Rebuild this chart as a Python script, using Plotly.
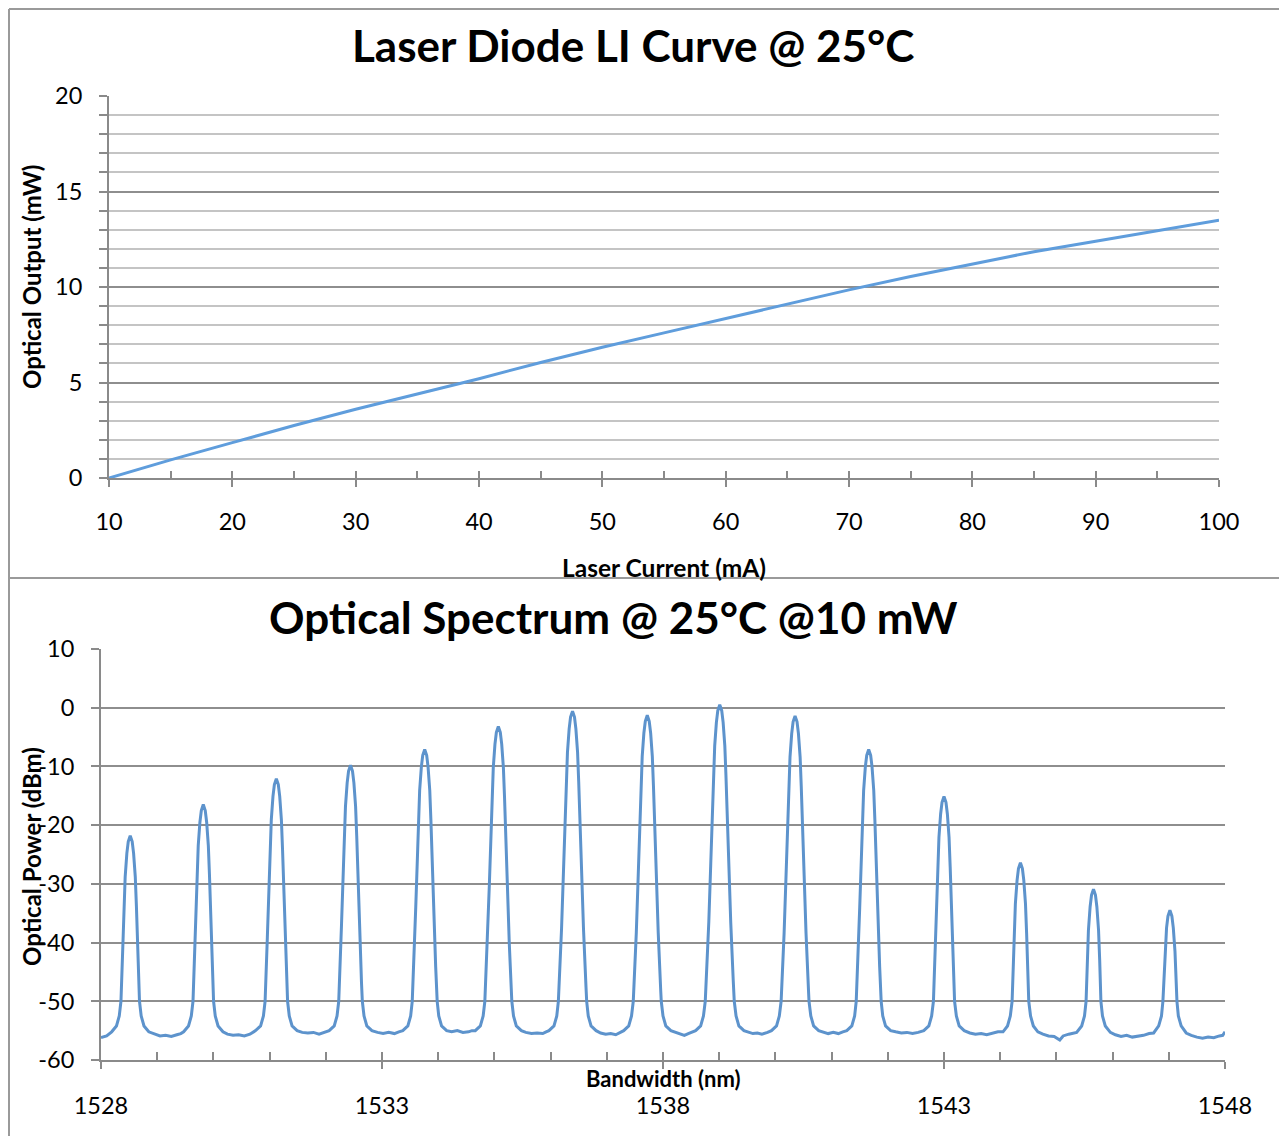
import plotly.graph_objects as go

# ---------------- data: LI curve ----------------
current_ma = [10, 15, 20, 25, 30, 35, 40, 45, 50, 55, 60, 65, 70, 75, 80, 85, 90, 95, 100]
optical_mw = [0, 0.95, 1.85, 2.75, 3.6, 4.4, 5.2, 6.05, 6.85, 7.6, 8.35, 9.1, 9.85, 10.55,
              11.2, 11.85, 12.4, 12.95, 13.5]
li_xticks = [10, 20, 30, 40, 50, 60, 70, 80, 90, 100]
li_yticks = [0, 5, 10, 15, 20]

# ---------------- data: optical spectrum ----------------
wavelength_nm = [
    1528.00, 1528.10, 1528.19,
    1528.275, 1528.325, 1528.355, 1528.395, 1528.41, 1528.43, 1528.46, 1528.485, 1528.52,
    1528.555, 1528.58, 1528.61, 1528.63, 1528.645, 1528.685, 1528.715, 1528.765, 1528.85,
    1528.95, 1529.05, 1529.15, 1529.25, 1529.35, 1529.42,
    1529.47, 1529.557, 1529.607, 1529.637, 1529.66, 1529.695, 1529.71, 1529.73, 1529.76, 1529.785, 1529.82,
    1529.855, 1529.88, 1529.91, 1529.93, 1529.945, 1529.98, 1530.003, 1530.033, 1530.083, 1530.17,
    1530.25, 1530.35, 1530.45, 1530.55, 1530.65,
    1530.75, 1530.84, 1530.89, 1530.92, 1530.96, 1530.995, 1531.01, 1531.03, 1531.06, 1531.085, 1531.12,
    1531.155, 1531.18, 1531.21, 1531.23, 1531.245, 1531.28, 1531.32, 1531.35, 1531.40, 1531.49,
    1531.58, 1531.68, 1531.78, 1531.88, 1531.96,
    1532.06, 1532.15, 1532.20, 1532.23, 1532.245, 1532.28, 1532.315, 1532.33, 1532.35, 1532.38, 1532.405, 1532.44,
    1532.475, 1532.50, 1532.53, 1532.55, 1532.565, 1532.60, 1532.635, 1532.65, 1532.68, 1532.73, 1532.82,
    1532.92, 1533.02, 1533.12, 1533.22, 1533.30,
    1533.37, 1533.46, 1533.51, 1533.538, 1533.565, 1533.60, 1533.635, 1533.65, 1533.67, 1533.70, 1533.725, 1533.76,
    1533.795, 1533.82, 1533.85, 1533.87, 1533.885, 1533.92, 1533.955, 1533.982, 1534.01, 1534.06, 1534.15,
    1534.24, 1534.34, 1534.44, 1534.54, 1534.60,
    1534.66, 1534.75, 1534.80, 1534.83, 1534.875, 1534.91, 1534.945, 1534.96, 1534.98, 1535.01, 1535.035, 1535.07,
    1535.105, 1535.13, 1535.16, 1535.18, 1535.195, 1535.23, 1535.265, 1535.31, 1535.34, 1535.39, 1535.48,
    1535.56, 1535.66, 1535.76, 1535.86, 1535.92,
    1535.97, 1536.06, 1536.11, 1536.138, 1536.15, 1536.195, 1536.23, 1536.265, 1536.28, 1536.30, 1536.33, 1536.355, 1536.39,
    1536.425, 1536.45, 1536.48, 1536.50, 1536.515, 1536.55, 1536.585, 1536.63, 1536.642, 1536.67, 1536.72, 1536.81,
    1536.89, 1536.98, 1537.07, 1537.16, 1537.24,
    1537.30, 1537.39, 1537.44, 1537.471, 1537.48, 1537.525, 1537.56, 1537.595, 1537.61, 1537.63, 1537.66, 1537.685, 1537.72,
    1537.755, 1537.78, 1537.81, 1537.83, 1537.845, 1537.88, 1537.915, 1537.96, 1537.969, 1538.00, 1538.05, 1538.14,
    1538.22, 1538.30, 1538.38, 1538.45, 1538.52,
    1538.58, 1538.67, 1538.72, 1538.752, 1538.77, 1538.815, 1538.85, 1538.885, 1538.90, 1538.92, 1538.95, 1538.975, 1539.01,
    1539.045, 1539.07, 1539.10, 1539.12, 1539.135, 1539.17, 1539.205, 1539.25, 1539.268, 1539.30, 1539.35, 1539.44,
    1539.52, 1539.60, 1539.68, 1539.76, 1539.86,
    1539.93, 1540.02, 1540.07, 1540.102, 1540.11, 1540.155, 1540.19, 1540.225, 1540.24, 1540.26, 1540.29, 1540.315, 1540.35,
    1540.385, 1540.41, 1540.44, 1540.46, 1540.475, 1540.51, 1540.545, 1540.59, 1540.598, 1540.63, 1540.68, 1540.77,
    1540.85, 1540.94, 1541.03, 1541.12, 1541.20,
    1541.27, 1541.36, 1541.41, 1541.438, 1541.465, 1541.50, 1541.535, 1541.55, 1541.57, 1541.60, 1541.625, 1541.66,
    1541.695, 1541.72, 1541.75, 1541.77, 1541.785, 1541.82, 1541.855, 1541.882, 1541.91, 1541.96, 1542.05,
    1542.14, 1542.24, 1542.34, 1542.44, 1542.54,
    1542.64, 1542.73, 1542.78, 1542.812, 1542.84, 1542.875, 1542.89, 1542.91, 1542.94, 1542.965, 1543.00,
    1543.035, 1543.06, 1543.09, 1543.11, 1543.125, 1543.16, 1543.188, 1543.22, 1543.27, 1543.36,
    1543.46, 1543.56, 1543.66, 1543.76, 1543.86, 1543.96,
    1544.05, 1544.13, 1544.18, 1544.212, 1544.235, 1544.25, 1544.27, 1544.30, 1544.325, 1544.36,
    1544.395, 1544.42, 1544.45, 1544.47, 1544.485, 1544.508, 1544.54, 1544.59, 1544.67,
    1544.76, 1544.86, 1544.96, 1545.06, 1545.12, 1545.22, 1545.30,
    1545.36, 1545.45, 1545.50, 1545.528, 1545.535, 1545.55, 1545.57, 1545.60, 1545.625, 1545.66,
    1545.695, 1545.72, 1545.75, 1545.77, 1545.785, 1545.792, 1545.82, 1545.87, 1545.96,
    1546.05, 1546.15, 1546.25, 1546.35, 1546.45, 1546.55, 1546.65,
    1546.73, 1546.82, 1546.87, 1546.895, 1546.91, 1546.93, 1546.96, 1546.985, 1547.02,
    1547.055, 1547.08, 1547.11, 1547.13, 1547.145, 1547.17, 1547.22, 1547.31,
    1547.40, 1547.50, 1547.60, 1547.70, 1547.80, 1547.90, 1547.96, 1548.00,
]
power_dbm = [
    -56.2, -55.9, -55.2,
    -54.2, -52.5, -50.0, -38.8, -33.8, -28.8, -24.8, -22.8, -21.8,
    -22.8, -24.8, -28.8, -33.8, -38.8, -50.0, -52.5, -54.2, -55.2,
    -55.6, -55.9, -55.8, -56.0, -55.7, -55.5,
    -55.2, -54.2, -52.5, -50.0, -43.5, -33.5, -28.5, -23.5, -19.5, -17.5, -16.5,
    -17.5, -19.5, -23.5, -28.5, -33.5, -43.5, -50.0, -52.5, -54.2, -55.2,
    -55.6, -55.8, -55.7, -55.9, -55.6,
    -55.0, -54.2, -52.5, -50.0, -39.1, -29.1, -24.1, -19.1, -15.1, -13.1, -12.1,
    -13.1, -15.1, -19.1, -24.1, -29.1, -39.1, -50.0, -52.5, -54.2, -55.0,
    -55.3, -55.4, -55.3, -55.6, -55.3,
    -55.0, -54.2, -52.5, -50.0, -46.8, -36.8, -26.8, -21.8, -16.8, -12.8, -10.8, -9.8,
    -10.8, -12.8, -16.8, -21.8, -26.8, -36.8, -46.8, -50.0, -52.5, -54.2, -55.0,
    -55.3, -55.5, -55.3, -55.5, -55.2,
    -55.0, -54.2, -52.5, -50.0, -44.1, -34.1, -24.1, -19.1, -14.1, -10.1, -8.1, -7.1,
    -8.1, -10.1, -14.1, -19.1, -24.1, -34.1, -44.1, -50.0, -52.5, -54.2, -55.0,
    -55.2, -55.0, -55.3, -55.2, -55.0,
    -55.0, -54.2, -52.5, -50.0, -40.2, -30.2, -20.2, -15.2, -10.2, -6.2, -4.2, -3.2,
    -4.2, -6.2, -10.2, -15.2, -20.2, -30.2, -40.2, -50.0, -52.5, -54.2, -55.0,
    -55.3, -55.5, -55.4, -55.5, -55.2,
    -55.0, -54.2, -52.5, -50.0, -47.6, -37.6, -27.6, -17.6, -12.6, -7.6, -3.6, -1.6, -0.6,
    -1.6, -3.6, -7.6, -12.6, -17.6, -27.6, -37.6, -47.6, -50.0, -52.5, -54.2, -55.0,
    -55.4, -55.6, -55.5, -55.7, -55.3,
    -55.0, -54.2, -52.5, -50.0, -48.3, -38.3, -28.3, -18.3, -13.3, -8.3, -4.3, -2.3, -1.3,
    -2.3, -4.3, -8.3, -13.3, -18.3, -28.3, -38.3, -48.3, -50.0, -52.5, -54.2, -55.0,
    -55.3, -55.6, -55.8, -55.5, -55.2,
    -55.0, -54.2, -52.5, -50.0, -46.5, -36.5, -26.5, -16.5, -11.5, -6.5, -2.5, -0.5, 0.5,
    -0.5, -2.5, -6.5, -11.5, -16.5, -26.5, -36.5, -46.5, -50.0, -52.5, -54.2, -55.0,
    -55.3, -55.5, -55.4, -55.6, -55.3,
    -55.0, -54.2, -52.5, -50.0, -48.4, -38.4, -28.4, -18.4, -13.4, -8.4, -4.4, -2.4, -1.4,
    -2.4, -4.4, -8.4, -13.4, -18.4, -28.4, -38.4, -48.4, -50.0, -52.5, -54.2, -55.0,
    -55.3, -55.5, -55.3, -55.5, -55.2,
    -55.0, -54.2, -52.5, -50.0, -44.1, -34.1, -24.1, -19.1, -14.1, -10.1, -8.1, -7.1,
    -8.1, -10.1, -14.1, -19.1, -24.1, -34.1, -44.1, -50.0, -52.5, -54.2, -55.0,
    -55.2, -55.4, -55.3, -55.5, -55.3,
    -55.0, -54.2, -52.5, -50.0, -42.1, -32.1, -27.1, -22.1, -18.1, -16.1, -15.1,
    -16.1, -18.1, -22.1, -27.1, -32.1, -42.1, -50.0, -52.5, -54.2, -55.0,
    -55.4, -55.6, -55.5, -55.7, -55.4, -55.2,
    -55.2, -54.2, -52.5, -50.0, -43.4, -38.4, -33.4, -29.4, -27.4, -26.4,
    -27.4, -29.4, -33.4, -38.4, -43.4, -50.0, -52.5, -54.2, -55.2,
    -55.6, -55.9, -56.0, -56.6, -55.9, -55.6, -55.4,
    -55.3, -54.2, -52.5, -50.0, -47.9, -42.9, -37.9, -33.9, -31.9, -30.9,
    -31.9, -33.9, -37.9, -42.9, -47.9, -50.0, -52.5, -54.2, -55.3,
    -55.7, -56.0, -55.8, -56.1, -56.0, -55.8, -55.5,
    -55.4, -54.2, -52.5, -50.0, -46.5, -41.5, -37.5, -35.5, -34.5,
    -35.5, -37.5, -41.5, -46.5, -50.0, -52.5, -54.2, -55.4,
    -55.8, -56.1, -56.3, -56.1, -56.2, -55.9, -55.8, -55.2,
]
spec_xticks = [1528, 1533, 1538, 1543, 1548]
spec_yticks = [10, 0, -10, -20, -30, -40, -50, -60]
spec_yticktext = ["10", "0", "-10", "-20", "-30", "-40", "-50", "-60"]

# ---------------- layout helpers (page pixel -> paper) ----------------
# the page body has an 8 px margin, so the figure is drawn 8 px in from the window edge
OFF = 8
W, H = 1287 - OFF, 1136 - OFF
def px(x):
    return (x - OFF) / W
def py(y):
    return 1 - (y - OFF) / H

FONT = "Lato, Carlito, Calibri, sans-serif"
AXIS_GREY = "#8a8a8a"
MAJOR_GRID = "#8e8e8e"
MINOR_GRID = "#c4c4c4"

fig = go.Figure()
fig.add_trace(go.Scatter(x=current_ma, y=optical_mw, mode="lines",
                         line=dict(color="#5F9DDC", width=3), xaxis="x", yaxis="y",
                         showlegend=False, hoverinfo="skip"))
fig.add_trace(go.Scatter(x=wavelength_nm, y=power_dbm, mode="lines",
                         line=dict(color="#5D93CC", width=3), xaxis="x2", yaxis="y2",
                         showlegend=False, hoverinfo="skip"))
# invisible anchors so the overlay tick axes render
fig.add_trace(go.Scatter(x=[None], y=[None], xaxis="x3", yaxis="y", showlegend=False))
fig.add_trace(go.Scatter(x=[None], y=[None], xaxis="x4", yaxis="y2", showlegend=False))

tickfont = dict(family=FONT, size=23.5, color="black")

fig.update_layout(
    width=W, height=H, margin=dict(l=0, r=0, t=0, b=0, pad=0, autoexpand=False),
    paper_bgcolor="white", plot_bgcolor="white", showlegend=False,
    xaxis=dict(domain=[px(109), px(1219)], range=[10, 100], anchor="y",
               tickmode="array", tickvals=li_xticks, ticks="outside", ticklen=7,
               tickwidth=2, tickcolor=AXIS_GREY, showline=True, linecolor=AXIS_GREY,
               linewidth=2, showgrid=False, zeroline=False, tickfont=tickfont,
               ticklabelstandoff=15, automargin=False),
    xaxis3=dict(overlaying="x", anchor="y", range=[10, 100], tickmode="linear",
                tick0=10, dtick=5, ticks="inside", ticklen=7, tickwidth=2,
                tickcolor=AXIS_GREY, showticklabels=False, showgrid=False,
                showline=False, zeroline=False, automargin=False),
    yaxis=dict(domain=[py(478), py(96)], range=[0, 20], anchor="x",
               tickmode="array", tickvals=li_yticks, ticks="outside", ticklen=8,
               tickwidth=2, tickcolor=AXIS_GREY, showline=True, linecolor=AXIS_GREY,
               linewidth=2, showgrid=True, gridcolor=MAJOR_GRID, gridwidth=2,
               zeroline=False, tickfont=tickfont, ticklabelstandoff=12, automargin=False,
               minor=dict(tickmode="linear", tick0=0, dtick=1, ticks="outside",
                          ticklen=8, tickwidth=2, tickcolor=AXIS_GREY, showgrid=True,
                          gridcolor=MINOR_GRID, gridwidth=2)),
    xaxis2=dict(domain=[px(101), px(1225)], range=[1528, 1548], anchor="y2",
                tickmode="array", tickvals=spec_xticks, ticks="outside", ticklen=7,
                tickwidth=2, tickcolor=AXIS_GREY, showline=True, linecolor=AXIS_GREY,
                linewidth=2, showgrid=False, zeroline=False, tickfont=tickfont,
                ticklabelstandoff=17, automargin=False),
    xaxis4=dict(overlaying="x2", anchor="y2", range=[1528, 1548], tickmode="linear",
                tick0=1528, dtick=1, ticks="inside", ticklen=8, tickwidth=2,
                tickcolor=AXIS_GREY, showticklabels=False, showgrid=False,
                showline=False, zeroline=False, automargin=False),
    yaxis2=dict(domain=[py(1060), py(649)], range=[-60, 10], anchor="x2",
                tickmode="array", tickvals=spec_yticks, ticktext=spec_yticktext,
                ticks="outside", ticklen=8,
                tickwidth=2, tickcolor=AXIS_GREY, showline=True, linecolor=AXIS_GREY,
                linewidth=2, showgrid=True, gridcolor=MAJOR_GRID, gridwidth=2,
                zeroline=False, tickfont=tickfont, ticklabelstandoff=12, automargin=False),
)

def ann(text, x, y, size, angle=0):
    fig.add_annotation(text=text, x=px(x), y=py(y), xref="paper", yref="paper",
                       xanchor="center", yanchor="middle", showarrow=False,
                       textangle=angle, font=dict(family=FONT, size=size, color="black"))

ann("<b>Laser Diode LI Curve @ 25°C</b>", 633, 45, 44)
ann("<b>Optical Spectrum @ 25°C @10 mW</b>", 613, 617, 44)
ann("<b>Optical Output (mW)</b>", 32, 277, 24, -90)
ann("<b>Laser Current (mA)</b>", 664, 567, 24.5)
ann("<b>Optical Power (dBm)</b>", 31, 857, 24, -90)
ann("<b>Bandwidth (nm)</b>", 663, 1078, 22)

# chart borders
border = dict(color="#9a9a9a", width=2)
for x0, y0, x1, y1 in [(9, 9, 1287, 9), (9, 9, 9, 1136), (9, 578, 1287, 578)]:
    fig.add_shape(type="line", xref="paper", yref="paper",
                  x0=px(x0), y0=py(y0), x1=px(x1), y1=py(y1), line=border)

fig.write_html("out.html")
